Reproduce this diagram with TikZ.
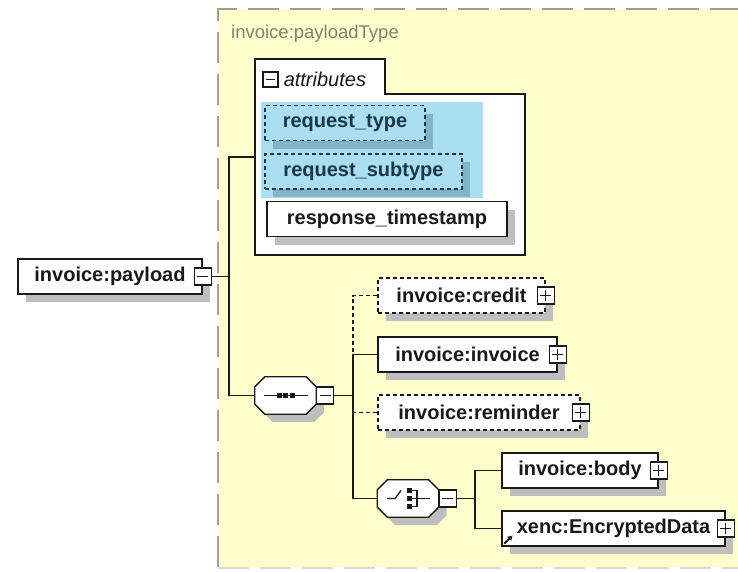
\documentclass[tikz,border=0pt]{standalone}
\usepackage{fontspec}
\setmainfont{Liberation Sans}
\usetikzlibrary{positioning, shadows, arrows.meta}
\definecolor{bgyellow}{RGB}{255,255,204}
\definecolor{framegray}{RGB}{160,160,145}
\definecolor{titlegray}{RGB}{130,130,115}
\definecolor{attrblue}{RGB}{170,222,240}
\definecolor{attrshadow}{RGB}{130,180,200}
\definecolor{attrtext}{RGB}{25,55,75}
\definecolor{shadowgray}{RGB}{190,190,190}
\definecolor{inkdark}{RGB}{25,25,25}
\tikzset{
  elembase/.style={draw=inkdark, line width=1.3pt, fill=white, minimum height=35pt,
    inner sep=0pt, font=\bfseries\fontsize{20}{22}\selectfont, text=inkdark},
  elem/.style={elembase, general shadow={fill=shadowgray, shadow xshift=8pt, shadow yshift=-8pt}},
  optelem/.style={elem, dash pattern=on 4pt off 3pt},
  attrelem/.style={elembase, dash pattern=on 4pt off 3pt, fill=attrblue, draw=attrtext,
    text=attrtext, general shadow={fill=attrshadow, shadow xshift=8pt, shadow yshift=-8pt}},
  compositor/.style={minimum width=61pt, minimum height=37pt, inner sep=0pt},
  pmbox/.style={draw=inkdark, line width=1.1pt, fill=white, minimum size=17pt, inner sep=0pt},
  expminus/.style={pmbox, path picture={
    \draw[line width=1.2pt] ([xshift=3pt]path picture bounding box.west)
      -- ([xshift=-3pt]path picture bounding box.east);}},
  expplus/.style={pmbox, path picture={
    \draw[line width=1.2pt] ([xshift=3pt]path picture bounding box.west)
      -- ([xshift=-3pt]path picture bounding box.east)
      ([yshift=-3pt]path picture bounding box.north)
      -- ([yshift=3pt]path picture bounding box.south);}},
  conn/.style={draw=inkdark, line width=1.3pt},
  optconn/.style={conn, dash pattern=on 4pt off 3pt}
}
% octagon frame of a compositor node, with its shadow
\newcommand{\compframe}[1]{%
  \def\octpath{([xshift=10pt]#1.north west) -- ([xshift=-10pt]#1.north east)
    -- ([yshift=-10pt]#1.north east) -- ([yshift=10pt]#1.south east)
    -- ([xshift=-10pt]#1.south east) -- ([xshift=10pt]#1.south west)
    -- ([yshift=10pt]#1.south west) -- ([yshift=-10pt]#1.north west) -- cycle}%
  \fill[shadowgray, transform canvas={shift={(8pt,-8pt)}}] \octpath;
  \draw[inkdark, line width=1.3pt, fill=white] \octpath;}
\begin{document}
\begin{tikzpicture}[x=1pt, y=-1pt]
  \useasboundingbox (0,0) rectangle (738,571);
  % complex type area
  \fill[bgyellow] (219,9) rectangle (738,567);
  \draw[framegray, line width=1.6pt, dash pattern=on 31pt off 11pt] (218,567) -- (218,9) -- (738,9);
  \draw[framegray!40, line width=1.2pt, dash pattern=on 31pt off 11pt] (218,568) -- (738,568);
  \node[anchor=west, inner sep=0pt, text=titlegray, font=\fontsize{18.5}{20}\selectfont]
    (typename) at (231,34) {invoice:payloadType};

  % attributes
  \draw[inkdark, line width=1.3pt, fill=white]
    (255,59) -- (385,59) -- (385,94) -- (525,94) -- (525,255) -- (255,255) -- cycle;
  \node[expminus, minimum size=15pt] (attrpm) at (270.5,79.5) {};
  \node[right=5pt of attrpm, inner sep=0pt, text=inkdark, font=\itshape\fontsize{20}{22}\selectfont]
    (attrlabel) {attributes};
  \fill[attrblue] (261,102) rectangle (483,198);
  \node[attrelem, minimum width=160pt] (reqtype) at (345,123) {request\_type};
  \node[attrelem, minimum width=197pt] (reqsub) at (363.5,171.5) {request\_subtype};
  \node[elem, minimum width=240pt] (resptime) at (387,219) {response\_timestamp};
  \coordinate (attrsin) at (255,157);

  % root element
  \node[elem, minimum width=184pt] (payload) at (110,276.5) {invoice:payload};
  \node[expminus] (payloadpm) at (payload.east) {};

  % sequence
  \node[compositor] (seq) at (285.5,395.5) {};
  \compframe{seq}
  \node[expminus, anchor=west] (seqpm) at (seq.east) {};
  \draw[conn] ([xshift=-22pt]seq.center) -- ([xshift=22pt]seq.center);
  \foreach \dx in {-6.5,0,6.5}
    \fill[inkdark] ([xshift=\dx pt]seq.center) +(-2.5,-2.5) rectangle +(2.5,2.5);

  \node[optelem, minimum width=167pt] (credit) at (461.5,295.5) {invoice:credit};
  \node[expplus] (creditpm) at (credit.east) {};
  \node[elem, minimum width=179pt] (invoice) at (467.5,354.5) {invoice:invoice};
  \node[expplus] (invoicepm) at (invoice.east) {};
  \node[optelem, minimum width=202pt] (reminder) at (479,412.5) {invoice:reminder};
  \node[expplus] (reminderpm) at (reminder.east) {};

  % choice
  \node[compositor] (choice) at (408,498.5) {};
  \compframe{choice}
  \node[expminus, anchor=west] (choicepm) at (choice.east) {};
  \begin{scope}[shift={(choice.center)}]
    \draw[conn] (-21,0) -- (-13,0) -- (-7,-8);
    \foreach \dy in {-8,0,8}
      \fill[inkdark] (-1,\dy-2.5) rectangle (4,\dy+2.5);
    \draw[conn] (4,-8) -- (9,-8) -- (9,8) -- (4,8) (4,0) -- (22,0);
  \end{scope}

  \node[elem, minimum width=156pt] (body) at (580,470.5) {invoice:body};
  \node[expplus] (bodypm) at (body.east) {};
  \node[elem, minimum width=223pt] (encdata) at (613.5,528.5) {xenc:EncryptedData};
  \node[expplus] (encdatapm) at (encdata.east) {};
  \draw[-{Triangle[length=4.5pt,width=5.5pt]}, line width=1.8pt, inkdark]
    ([shift={(3,-3)}]encdata.south west) -- ++(8,-8);

  % connectors
  \coordinate (j1) at (229,276.5);
  \draw[conn] (payloadpm.east) -- (j1);
  \draw[conn] (attrsin) -| (j1) |- (seq.west);
  \coordinate (j2) at (353,395.5);
  \draw[conn] (seqpm.east) -- (j2);
  \draw[optconn] (credit.west) -| (j2 |- invoice.west);
  \draw[conn] (invoice.west) -| (j2) |- (choice.west);
  \draw[optconn] (reminder.west) -- (reminder.west -| j2);
  \coordinate (j3) at (475,498.5);
  \draw[conn] (choicepm.east) -- (j3);
  \draw[conn] (body.west) -| (j3) |- (encdata.west);
\end{tikzpicture}
\end{document}
